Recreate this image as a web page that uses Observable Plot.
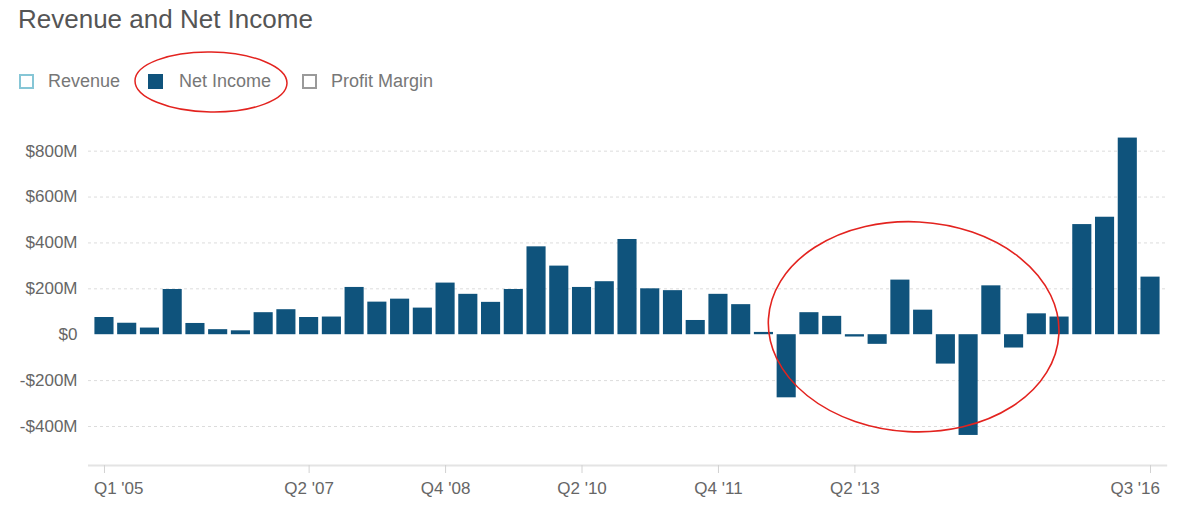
<!DOCTYPE html>
<html>
<head>
<meta charset="utf-8">
<script src="https://cdn.jsdelivr.net/npm/d3@7"></script>
<script src="https://cdn.jsdelivr.net/npm/@observablehq/plot@0.6"></script>
<style>
  html, body { margin: 0; padding: 0; background: #fff; }
  body { width: 1200px; height: 519px; overflow: hidden; font-family: "Liberation Sans", Arial, Helvetica, sans-serif; }
  #header { position: relative; width: 1200px; height: 120px; }
  #title { position: absolute; left: 18px; top: 6px; font-size: 26px; line-height: 26px; color: #555; white-space: nowrap; }
  .sw { position: absolute; top: 74px; width: 15px; height: 15px; box-sizing: border-box; }
  .lt { position: absolute; top: 72px; font-size: 18px; line-height: 18px; color: #777; white-space: nowrap; }
  #legendRing { position: absolute; left: 0; top: 0; }
  #chart svg { display: block; }
</style>
</head>
<body>
<div id="header">
  <div id="title">Revenue and Net Income</div>
  <div class="sw" style="left:19px;border:2.5px solid #86c6d6;"></div>
  <div class="lt" style="left:48px;">Revenue</div>
  <div class="sw" style="left:148px;background:#0f537c;"></div>
  <div class="lt" style="left:179px;">Net Income</div>
  <div class="sw" style="left:302px;border:2.5px solid #9a9a9a;"></div>
  <div class="lt" style="left:331px;">Profit Margin</div>
  <svg id="legendRing" width="400" height="120">
    <ellipse cx="211" cy="82" rx="76" ry="30" fill="none" stroke="#e3231f" stroke-width="1.5" transform="rotate(1 211 82)"></ellipse>
  </svg>
</div>
<div id="chart"></div>
<script>
// Categories: quarters Q1 2005 .. Q3 2016
const quarters = [
  "Q1 '05","Q2 '05","Q3 '05","Q4 '05",
  "Q1 '06","Q2 '06","Q3 '06","Q4 '06",
  "Q1 '07","Q2 '07","Q3 '07","Q4 '07",
  "Q1 '08","Q2 '08","Q3 '08","Q4 '08",
  "Q1 '09","Q2 '09","Q3 '09","Q4 '09",
  "Q1 '10","Q2 '10","Q3 '10","Q4 '10",
  "Q1 '11","Q2 '11","Q3 '11","Q4 '11",
  "Q1 '12","Q2 '12","Q3 '12","Q4 '12",
  "Q1 '13","Q2 '13","Q3 '13","Q4 '13",
  "Q1 '14","Q2 '14","Q3 '14","Q4 '14",
  "Q1 '15","Q2 '15","Q3 '15","Q4 '15",
  "Q1 '16","Q2 '16","Q3 '16"
];
// Net income, $ millions
const netIncome = [
  75, 50, 29, 197, 49, 22, 17, 96, 109, 75,
  77, 206, 142, 155, 116, 225, 176, 141, 197, 383,
  299, 206, 231, 415, 200, 192, 62, 176, 131, 10,
  -275, 96, 80, -10, -42, 238, 107, -128, -439, 213,
  -58, 91, 77, 480, 512, 857, 251
];
// Axis tick values / labels
const yTicks = [-400, -200, 0, 200, 400, 600, 800];
const gridValues = [-400, -200, 200, 400, 600, 800];
const xTicksMiddle = ["Q2 '07", "Q4 '08", "Q2 '10", "Q4 '11", "Q2 '13"];
const xTickFirst = ["Q1 '05"];
const xTickLast = ["Q3 '16"];
const xTicksAll = [...xTickFirst, ...xTicksMiddle, ...xTickLast];
// Annotation ring (data space): from quarter to quarter, value range
const ringQuarters = ["Q2 '12", "Q3 '15"];
const ringValues = [-425, 490];

const data = quarters.map((q, i) => ({quarter: q, value: netIncome[i]}));
const yDomain = [-570, 890];
const fmt = d => d === 0 ? "$0" : (d < 0 ? "-" : "") + "$" + Math.abs(d) + "M";

function ring(index, scales) {
  const x = scales.x, y = scales.y;
  const bw = (x && x.bandwidth) ? x.bandwidth() : 0;
  const x1 = x(ringQuarters[0]) + bw * 0.75;
  const x2 = x(ringQuarters[1]) + bw * 0.5;
  const y1 = y(ringValues[1]);
  const y2 = y(ringValues[0]);
  const cx = (x1 + x2) / 2, cy = (y1 + y2) / 2;
  const ns = "http://www.w3.org/2000/svg";
  const g = document.createElementNS(ns, "g");
  const e = document.createElementNS(ns, "ellipse");
  e.setAttribute("cx", cx);
  e.setAttribute("cy", cy);
  e.setAttribute("rx", (x2 - x1) / 2);
  e.setAttribute("ry", (y2 - y1) / 2);
  e.setAttribute("fill", "none");
  e.setAttribute("stroke", "#e3231f");
  e.setAttribute("stroke-width", "1.6");
  e.setAttribute("transform", `rotate(3 ${cx} ${cy})`);
  g.appendChild(e);
  return g;
}

const plot = Plot.plot({
  width: 1200,
  height: 399,
  marginTop: 10,
  marginBottom: 54,
  marginLeft: 92.6,
  marginRight: 38.6,
  style: {fontFamily: "'Liberation Sans', Arial, Helvetica, sans-serif", fontSize: "17px", color: "#666", background: "#fff"},
  x: {domain: quarters, paddingInner: 0.16, paddingOuter: 0.08, axis: null, label: null},
  y: {domain: yDomain, axis: null, label: null},
  marks: [
    Plot.ruleY(gridValues, {stroke: "#dcdcdc", strokeDasharray: "3,3", strokeWidth: 1, insetLeft: -4.6, insetRight: -5.3}),
    Plot.ruleY([yDomain[0]], {stroke: "#e4e4e4", strokeWidth: 2, insetLeft: -4.6, insetRight: -5.8}),
    Plot.barY(data, {x: "quarter", y: "value", fill: "#0f537c"}),
    Plot.axisY({ticks: yTicks, tickFormat: fmt, tickSize: 0, tickPadding: 15.6, fill: "#666", label: null}),
    Plot.axisX({ticks: xTicksAll, tickSize: 8, tickFormat: () => "", stroke: "#d2d2d2", label: null}),
    Plot.axisX({ticks: xTicksMiddle, tickSize: 0, tickPadding: 16.5, fill: "#666", label: null}),
    Plot.axisX({ticks: xTickFirst, tickSize: 0, tickPadding: 16.5, fill: "#666", textAnchor: "start", dx: -10.5, label: null}),
    Plot.axisX({ticks: xTickLast, tickSize: 0, tickPadding: 16.5, fill: "#666", textAnchor: "end", dx: 9.5, label: null}),
    ring
  ]
});
document.getElementById("chart").appendChild(plot);
</script>
</body>
</html>
